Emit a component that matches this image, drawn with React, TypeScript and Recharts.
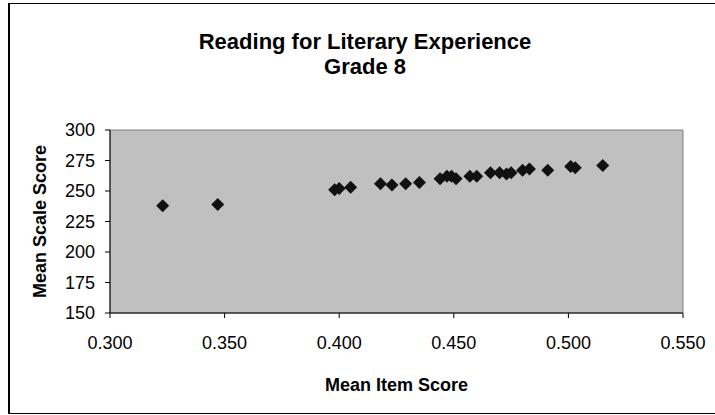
import React from 'react'
import {
  ScatterChart,
  Scatter,
  XAxis,
  YAxis,
  ReferenceArea,
  Label,
} from 'recharts'

const itemScores = [
  0.323, 0.347, 0.398, 0.4, 0.405, 0.418, 0.423, 0.429, 0.435, 0.444, 0.447, 0.449,
  0.451, 0.457, 0.46, 0.466, 0.47, 0.473, 0.475, 0.48, 0.483, 0.491, 0.501, 0.503, 0.515,
]
const scaleScores = [
  238, 239, 251, 252, 253, 256, 255, 256, 257, 260, 262, 262,
  260, 262, 262, 265, 265, 264, 265, 267, 268, 267, 270, 269, 271,
]
const xTicks = [0.3, 0.35, 0.4, 0.45, 0.5, 0.55]
const yTicks = [150, 175, 200, 225, 250, 275, 300]

const font = "Arial, 'Liberation Sans', sans-serif"

const points = itemScores.map((x, i) => ({ x, y: scaleScores[i] }))

function Diamond(props: any) {
  const { cx, cy } = props
  const r = 6.5
  return (
    <polygon
      points={`${cx},${cy - r} ${cx + r},${cy} ${cx},${cy + r} ${cx - r},${cy}`}
      fill="#111"
    />
  )
}

export default function App() {
  return (
    <div
      style={{
        position: 'absolute',
        left: 0,
        top: 0,
        width: 715,
        height: 415,
        background: '#fff',
        fontFamily: font,
        overflow: 'hidden',
      }}
    >
      <div
        style={{
          position: 'absolute',
          left: 8,
          top: 3,
          width: 720,
          height: 409,
          border: '1px solid #000',
          borderLeftWidth: 2,
        }}
      />
      <div
        style={{
          position: 'absolute',
          left: 8,
          width: 714,
          top: 29,
          textAlign: 'center',
          fontWeight: 'bold',
          fontSize: 22,
          lineHeight: '25px',
          color: '#000',
        }}
      >
        Reading for Literary Experience
        <br />
        Grade 8
      </div>
      <ScatterChart
        width={715}
        height={415}
        margin={{ top: 130, right: 32, bottom: 12, left: 50 }}
        style={{ position: 'absolute', left: 0, top: 0 }}
      >
        <XAxis
          type="number"
          dataKey="x"
          domain={[0.3, 0.55]}
          ticks={xTicks}
          tickFormatter={(v: number) => v.toFixed(3)}
          height={90}
          tickSize={5}
          tickMargin={18}
          stroke="#000"
          tick={{ fill: '#000', fontSize: 18, fontFamily: font }}
          allowDataOverflow
        >
          <Label
            value="Mean Item Score"
            position="insideBottom"
            offset={12}
            style={{ fontWeight: 'bold', fontSize: 18, fill: '#000', fontFamily: font }}
          />
        </XAxis>
        <YAxis
          type="number"
          dataKey="y"
          domain={[150, 300]}
          ticks={yTicks}
          width={60}
          tickSize={5}
          tickMargin={10}
          stroke="#000"
          tick={{ fill: '#000', fontSize: 18, fontFamily: font }}
          allowDataOverflow
        >
          <Label
            value="Mean Scale Score"
            angle={-90}
            position="insideLeft"
            offset={-10}
            style={{ textAnchor: 'middle', fontWeight: 'bold', fontSize: 18, fill: '#000', fontFamily: font }}
          />
        </YAxis>
        <ReferenceArea
          x1={0.3}
          x2={0.55}
          y1={150}
          y2={300}
          fill="#c0c0c0"
          fillOpacity={1}
          stroke="#808080"
          strokeWidth={1}
        />
        <Scatter data={points} shape={<Diamond />} isAnimationActive={false} />
      </ScatterChart>
    </div>
  )
}
